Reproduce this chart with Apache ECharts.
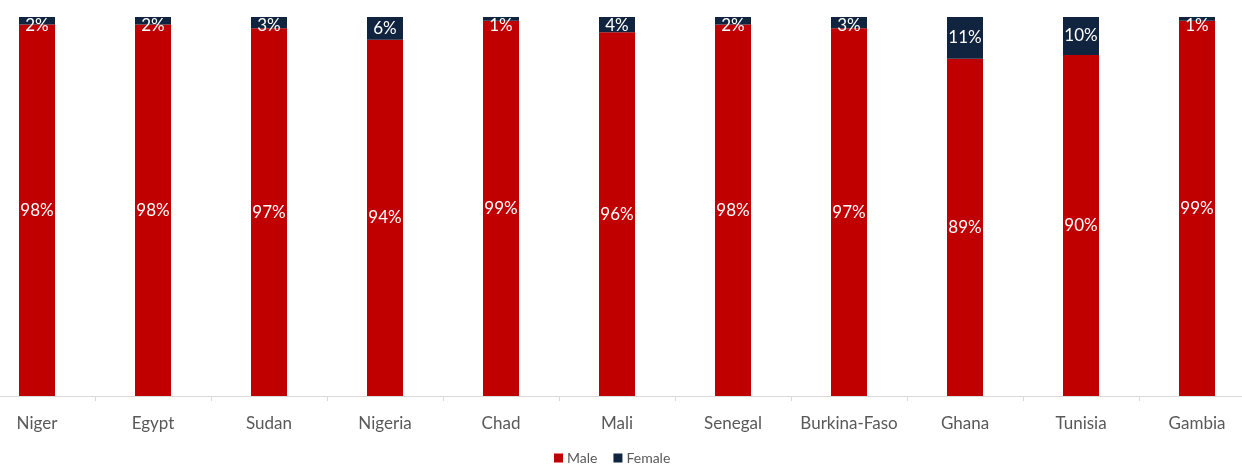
<!DOCTYPE html>
<html>
<head>
<meta charset="utf-8">
<script src="https://cdn.jsdelivr.net/npm/echarts@6/dist/echarts.min.js"></script>
<style>
html,body{margin:0;padding:0;background:#fff;}
#c{width:1242px;height:465px;}
</style>
</head>
<body>
<div id="c"></div>
<script>
var categories = ['Niger','Egypt','Sudan','Nigeria','Chad','Mali','Senegal','Burkina-Faso','Ghana','Tunisia','Gambia'];
var maleValues = [98,98,97,94,99,96,98,97,89,90,99];
var femaleValues = [2,2,3,6,1,4,2,3,11,10,1];

var FONT = 'Lato';
var plotTop = 17, plotBottom = 396;
var pxPerUnit = (plotBottom - plotTop) / 100;

var femaleData = femaleValues.map(function(v){
  var half = v * pxPerUnit / 2;
  var off = Math.max(0, 8.5 - half);
  return { value: v, label: { offset: [0, off] } };
});

var chart = echarts.init(document.getElementById('c'));
chart.setOption({
  animation: false,
  backgroundColor: '#ffffff',
  grid: { left: -21, width: 1276, top: plotTop, bottom: 465 - plotBottom, containLabel: false, outerBoundsMode: 'none' },
  legend: {
    data: ['Male','Female'],
    left: 554, top: 451, padding: 0,
    itemWidth: 9, itemHeight: 9, itemGap: 16,
    icon: 'rect',
    textStyle: { fontFamily: FONT, fontSize: 14, color: '#595959', padding: [0,0,0,-1] }
  },
  xAxis: {
    type: 'category',
    data: categories,
    axisLine: { show: true, lineStyle: { color: '#d9d9d9', width: 1 } },
    axisTick: { show: true, length: 5, lineStyle: { color: '#d9d9d9' } },
    axisLabel: { fontFamily: FONT, fontSize: 17, color: '#595959', margin: 19, interval: 0 }
  },
  yAxis: {
    type: 'value', min: 0, max: 100, show: false,
    splitLine: { show: false }
  },
  series: [
    {
      name: 'Male', type: 'bar', stack: 'total', barWidth: 36,
      data: maleValues,
      itemStyle: { color: '#C00000' },
      label: { show: true, position: 'inside', color: '#ffffff', fontFamily: FONT, fontSize: 17,
        formatter: function(p){ return p.value + '%'; } }
    },
    {
      name: 'Female', type: 'bar', stack: 'total', barWidth: 36,
      data: femaleData,
      itemStyle: { color: '#10233F' },
      label: { show: true, position: 'inside', color: '#ffffff', fontFamily: FONT, fontSize: 17,
        formatter: function(p){ return p.value + '%'; } }
    }
  ]
});
</script>
</body>
</html>
